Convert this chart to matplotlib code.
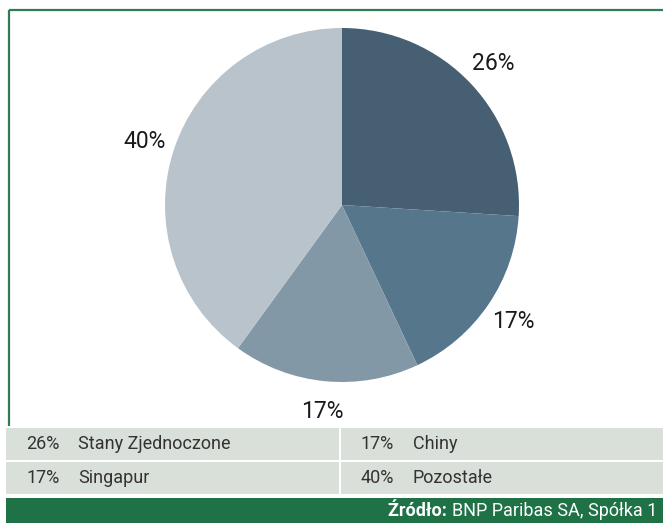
import matplotlib.pyplot as plt
from matplotlib.patches import Rectangle

# dane
kraje = ['Stany Zjednoczone', 'Chiny', 'Singapur', 'Pozostałe']
udzialy = [26, 17, 17, 40]
kolory = ['#475f73', '#56768c', '#8398a6', '#b9c3cc']
zrodlo = 'BNP Paribas SA, Spółka 1'

plt.rcParams['font.family'] = ['Roboto', 'DejaVu Sans']

W, H = 663, 523
fig = plt.figure(figsize=(W / 100, H / 100), dpi=100)

# tło / ramki w pikselach
bg = fig.add_axes([0, 0, 1, 1])
bg.set_xlim(0, W)
bg.set_ylim(H, 0)
bg.axis('off')

zielony = '#2e7d55'
bg.plot([8.5, W], [9.5, 9.5], color=zielony, lw=1.6, solid_capstyle='butt')
bg.plot([8.5, 8.5], [9.5, 426], color=zielony, lw=1.6, solid_capstyle='butt')

# tabela legendy
wiersze = [(428, 460), (462, 494)]
kolumny = [(6, 339), (341, W)]
for r, (y0, y1) in enumerate(wiersze):
    for c, (x0, x1) in enumerate(kolumny):
        bg.add_patch(Rectangle((x0, y0), x1 - x0, y1 - y0, facecolor='#d9dfd9', edgecolor='none'))
        i = r * 2 + c
        bg.text(x0 + 20, (y0 + y1) / 2, f'{udzialy[i]}%', fontsize=13, color='#333333',
                va='center', ha='left')
        bg.text(x0 + 72, (y0 + y1) / 2, kraje[i], fontsize=13, color='#333333',
                va='center', ha='left')

# stopka
bg.add_patch(Rectangle((6, 498), W - 6, H - 498, facecolor='#1f7146', edgecolor='none'))
t = bg.text(W - 6, 511, zrodlo, fontsize=13, color='white', ha='right', va='center')
fig.canvas.draw()
x_px = t.get_window_extent().x0
tz = bg.text(0, 511, 'Źródło: ', fontsize=13, color='white', ha='right', va='center',
             fontweight='bold')
tz.set_x(bg.transData.inverted().transform((x_px, 0))[0])

# wykres kołowy
cx, cy, rad = 342, 205, 177
ax = fig.add_axes([(cx - rad) / W, (H - cy - rad) / H, 2 * rad / W, 2 * rad / H])
ax.pie(udzialy, colors=kolory, startangle=90, counterclock=False,
       labels=[f'{u}%' for u in udzialy], labeldistance=1.17,
       wedgeprops=dict(linewidth=0),
       textprops=dict(fontsize=16.5, color='#1a1a1a'))
for txt in ax.texts:
    txt.set_ha('center')
    txt.set_va('center')
ax.set_xlim(-1, 1)
ax.set_ylim(-1, 1)
ax.set_aspect('equal')
ax.axis('off')

fig.savefig('out.png', dpi=100)
